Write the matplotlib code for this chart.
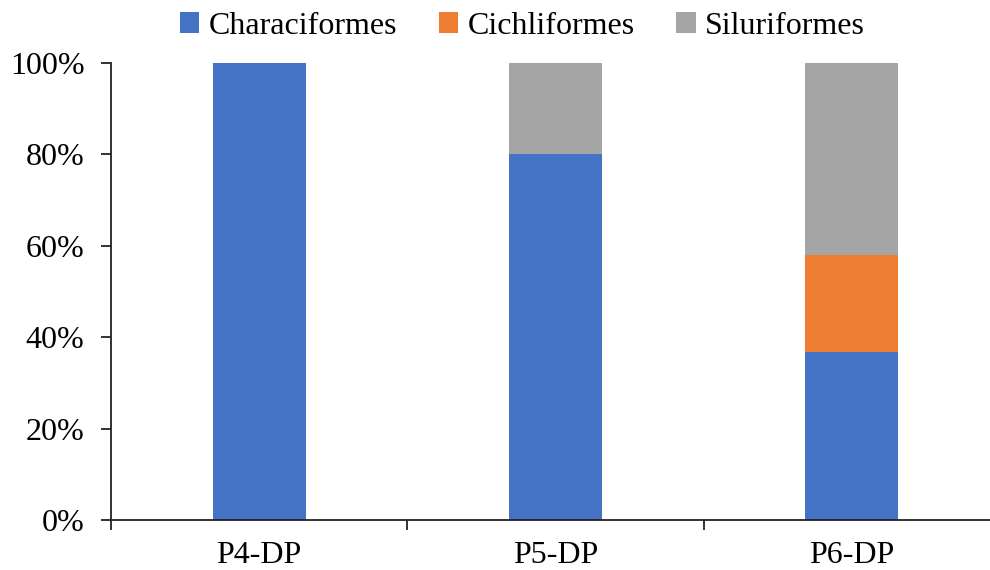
import numpy as np
import matplotlib.pyplot as plt

plt.rcParams['font.family'] = ['Liberation Serif', 'DejaVu Serif']

sites = ['P4-DP', 'P5-DP', 'P6-DP']
orders = ['Characiformes', 'Cichliformes', 'Siluriformes']
characiformes = [100.0, 80.0, 36.8]
cichliformes = [0.0, 0.0, 21.1]
siluriformes = [0.0, 20.0, 42.1]
colors = ['#4472C4', '#ED7D31', '#A5A5A5']

fig = plt.figure(figsize=(9.9, 5.7), dpi=100)
ax = fig.add_axes([0.1121, 0.0877, 0.898, 0.8018])

x = np.arange(len(sites))
w = 0.314
bottom = np.zeros(len(sites))
for vals, name, c in zip([characiformes, cichliformes, siluriformes], orders, colors):
    vals = np.array(vals)
    ax.bar(x, vals, w, bottom=bottom, color=c, label=name, linewidth=0)
    bottom += vals

fs = 23
ax.set_xlim(-0.5, 2.5)
ax.set_ylim(0, 100)
ax.set_yticks(np.arange(0, 101, 20))
ax.set_yticklabels(['%d%%' % v for v in range(0, 101, 20)], fontsize=fs)
ax.set_xticks(x)
ax.set_xticklabels(sites, fontsize=fs)
ax.set_xticks([-0.5, 0.5, 1.5, 2.5], minor=True)
ax.tick_params(axis='x', which='major', length=0, pad=15)
ax.tick_params(axis='x', which='minor', length=7, width=1.3, direction='out', color='#222222')
ax.tick_params(axis='y', length=7, width=1.3, direction='out', pad=12, color='#222222')

for s in ['top', 'right']:
    ax.spines[s].set_visible(False)
for s in ['left', 'bottom']:
    ax.spines[s].set_linewidth(1.3)
    ax.spines[s].set_color('#222222')

fig.legend(loc='upper center', bbox_to_anchor=(0.528, 1.03), ncol=3, frameon=False,
           fontsize=fs, handlelength=0.6, handleheight=0.6, handletextpad=0.3,
           columnspacing=1.3)

plt.savefig('out.png', dpi=100)
